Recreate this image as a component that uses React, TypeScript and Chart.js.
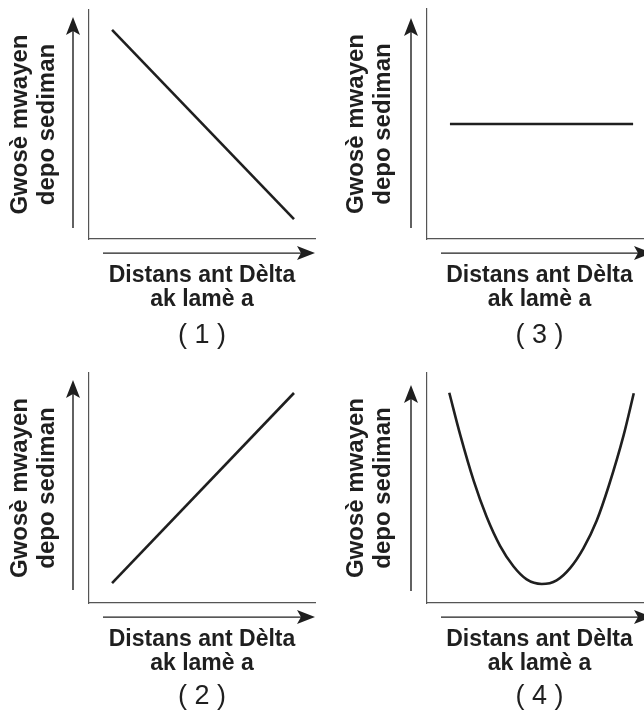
import React, { useEffect, useRef } from "react";
import { Chart, registerables } from "chart.js";

Chart.register(...registerables);
Chart.defaults.font.family = "'Liberation Sans', Arial, Helvetica, sans-serif";

// ---- text ----
const xTitleLines = ["Distans ant Dèlta", "ak lamè a"];
const yTitleLines = ["Gwosè mwayen", "depo sediman"];
const panelLabels = ["( 1 )", "( 2 )", "( 3 )", "( 4 )"];

// ---- data (axis units 0..10) ----
const axisMin = 0;
const axisMax = 10;
const panel1X = [1.02, 9.07];
const panel1Y = [9.13, 0.87];
const panel2X = [1.02, 9.07];
const panel2Y = [0.87, 9.13];
const panel3X = [1.02, 9.16];
const panel3Y = [5.0, 5.0];
const panel4X = [0.99, 1.48, 2.08, 2.65, 3.24, 3.84, 4.43, 5.1, 5.76, 6.36, 6.95, 7.54, 8.08, 8.74, 9.19];
const panel4Y = [9.14, 7.3, 5.3, 3.75, 2.5, 1.6, 1.03, 0.83, 0.99, 1.52, 2.38, 3.58, 5.1, 7.3, 9.12];

const INK = "#1f1f1f";
const AXIS = "#555555";

type PanelLayout = {
  left: number;
  top: number;
  width: number;
  height: number;
  padTop: number;
  padRight: number;
  yTitlePad: { top: number; bottom: number };
  labelPad: { top: number; bottom: number };
  yArrow: { top: number; bottom: number };
  smooth: boolean;
};

function drawHead(ctx: CanvasRenderingContext2D, tx: number, ty: number, dx: number, dy: number) {
  const L = 18;
  const W = 7;
  const N = 4;
  const px = -dy;
  const py = dx;
  const bx = tx - dx * L;
  const by = ty - dy * L;
  ctx.beginPath();
  ctx.moveTo(tx, ty);
  ctx.lineTo(bx + px * W, by + py * W);
  ctx.lineTo(tx - dx * (L - N), ty - dy * (L - N));
  ctx.lineTo(bx - px * W, by - py * W);
  ctx.closePath();
  ctx.fill();
}

const arrowPlugin = {
  id: "axisArrows",
  afterDraw(chart: any, _args: any, opts: any) {
    const ctx: CanvasRenderingContext2D = chart.ctx;
    const a = chart.chartArea;
    ctx.save();
    ctx.strokeStyle = INK;
    ctx.fillStyle = INK;
    ctx.lineWidth = 1.4;
    // vertical arrow
    const yx = a.left - 16;
    const yTip = a.top + opts.yTop;
    const yEnd = a.bottom - opts.yBottom;
    ctx.beginPath();
    ctx.moveTo(yx, yEnd);
    ctx.lineTo(yx, yTip + 10);
    ctx.stroke();
    drawHead(ctx, yx, yTip, 0, -1);
    // horizontal arrow
    const xy = a.bottom + 14;
    const xStart = a.left + 14;
    const xTip = a.right;
    ctx.beginPath();
    ctx.moveTo(xStart, xy);
    ctx.lineTo(xTip - 10, xy);
    ctx.stroke();
    drawHead(ctx, xTip, xy, 1, 0);
    ctx.restore();
  },
};

function Panel({ layout, xs, ys, label }: { layout: PanelLayout; xs: number[]; ys: number[]; label: string }) {
  const ref = useRef<HTMLCanvasElement | null>(null);
  useEffect(() => {
    if (!ref.current) return;
    const points = xs.map((x, i) => ({ x, y: ys[i] }));
    const chart = new Chart(ref.current, {
      type: "scatter",
      data: {
        datasets: [
          {
            data: points,
            showLine: true,
            borderColor: INK,
            backgroundColor: INK,
            borderWidth: 2.6,
            pointRadius: 0,
            pointHoverRadius: 0,
            tension: 0,
            cubicInterpolationMode: layout.smooth ? "monotone" : "default",
          } as any,
        ],
      },
      options: {
        responsive: false,
        animation: false,
        events: [],
        layout: { padding: { top: layout.padTop, right: layout.padRight, left: 0, bottom: 0 } },
        scales: {
          x: {
            type: "linear",
            min: axisMin,
            max: axisMax,
            grid: { display: false, drawTicks: false },
            ticks: { display: false },
            border: { display: true, color: AXIS, width: 1.2 },
            title: {
              display: true,
              text: xTitleLines,
              color: INK,
              font: { size: 23, weight: "bold", lineHeight: 1.02 },
              padding: { top: 25, bottom: 0 },
            },
          },
          y: {
            type: "linear",
            min: axisMin,
            max: axisMax,
            grid: { display: false, drawTicks: false },
            ticks: { display: false },
            border: { display: true, color: AXIS, width: 1.2 },
            title: {
              display: true,
              text: yTitleLines,
              color: INK,
              font: { size: 24, weight: "bold", lineHeight: 1.125 },
              padding: layout.yTitlePad,
            },
          },
        },
        plugins: {
          legend: { display: false },
          tooltip: { enabled: false },
          title: {
            display: true,
            text: label,
            position: "bottom",
            fullSize: false,
            color: INK,
            font: { size: 27, weight: "normal", lineHeight: 1 },
            padding: layout.labelPad,
          },
          axisArrows: { yTop: layout.yArrow.top, yBottom: layout.yArrow.bottom },
        } as any,
      },
      plugins: [arrowPlugin],
    });
    return () => chart.destroy();
  }, [layout, xs, ys, label]);

  return (
    <canvas
      ref={ref}
      width={layout.width}
      height={layout.height}
      style={{ position: "absolute", left: layout.left, top: layout.top, width: layout.width, height: layout.height }}
    />
  );
}

const layouts: PanelLayout[] = [
  {
    left: 0, top: 0, width: 322, height: 360, padTop: 10, padRight: 7,
    yTitlePad: { top: 6.5, bottom: 28.5 }, labelPad: { top: 11.5, bottom: 10.5 },
    yArrow: { top: 7, bottom: 11 }, smooth: false,
  },
  {
    left: 0, top: 360, width: 322, height: 355, padTop: 13, padRight: 7,
    yTitlePad: { top: 6.5, bottom: 28.5 }, labelPad: { top: 8, bottom: 5 },
    yArrow: { top: 7, bottom: 13 }, smooth: false,
  },
  {
    left: 322, top: 0, width: 330, height: 360, padTop: 9, padRight: 0,
    yTitlePad: { top: 21, bottom: 30 }, labelPad: { top: 11.5, bottom: 10.5 },
    yArrow: { top: 9, bottom: 11 }, smooth: false,
  },
  {
    left: 322, top: 360, width: 330, height: 355, padTop: 13, padRight: 0,
    yTitlePad: { top: 21, bottom: 30 }, labelPad: { top: 8, bottom: 5 },
    yArrow: { top: 12, bottom: 12 }, smooth: true,
  },
];

export default function App() {
  return (
    <div
      style={{
        position: "fixed",
        left: 0,
        top: 0,
        width: 644,
        height: 715,
        overflow: "hidden",
        background: "#ffffff",
      }}
    >
      <Panel layout={layouts[0]} xs={panel1X} ys={panel1Y} label={panelLabels[0]} />
      <Panel layout={layouts[1]} xs={panel2X} ys={panel2Y} label={panelLabels[1]} />
      <Panel layout={layouts[2]} xs={panel3X} ys={panel3Y} label={panelLabels[2]} />
      <Panel layout={layouts[3]} xs={panel4X} ys={panel4Y} label={panelLabels[3]} />
    </div>
  );
}
